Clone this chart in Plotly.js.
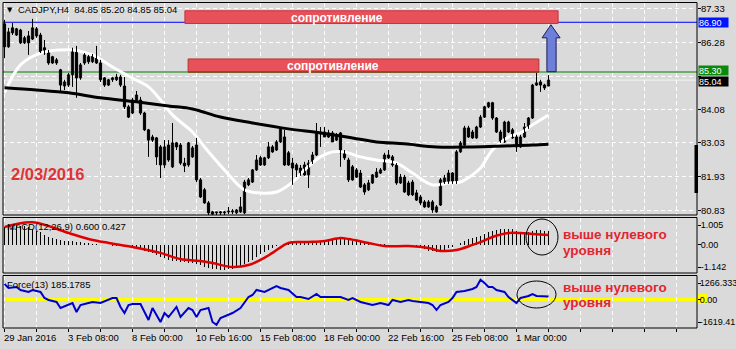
<!DOCTYPE html>
<html><head><meta charset="utf-8">
<script src="https://cdn.plot.ly/plotly-3.0.1.min.js"></script>
<style>html,body{margin:0;padding:0;background:#dadada;}#chart{width:736px;height:349px;}</style>
</head><body><div id="chart"></div>
<script>
// ---- data (CADJPY H4) ----
const open=[86.85,86.11,86.72,86.49,86.65,86.24,86.46,86.36,86.46,86.49,
86.08,85.95,85.79,85.59,85.37,84.85,84.88,85.21,85.95,85.11,
85.59,85.79,85.63,85.75,85.59,85.11,84.88,85.05,85.05,85.14,
84.85,84.18,83.98,84.34,84.40,83.98,83.44,83.21,83.18,82.89,
82.31,82.95,82.25,83.02,82.95,82.37,82.31,82.57,82.95,81.83,
81.51,81.09,80.80,80.77,80.80,80.77,80.80,80.83,80.77,80.80,
80.77,81.67,81.76,82.15,82.54,82.31,82.54,82.89,82.79,83.05,
83.21,82.70,82.37,82.31,82.21,82.31,81.99,82.37,82.63,83.34,
83.37,83.34,83.34,83.11,83.34,82.73,82.47,82.25,82.15,82.05,
81.67,81.51,81.73,81.92,82.05,82.15,82.63,82.57,82.31,81.73,
81.92,81.73,81.76,81.41,81.28,81.12,80.96,81.12,80.80,81.02,
81.73,81.73,82.05,81.73,82.73,82.95,83.50,83.37,83.18,83.53,
83.85,84.18,84.31,83.82,83.37,83.05,83.37,83.44,83.21,82.89,
83.21,83.50,83.82,84.88,84.98,84.88,84.85];
const high=[86.98,86.72,86.88,86.72,86.69,86.46,86.62,87.01,86.75,86.56,
86.33,86.01,85.82,85.75,85.40,85.05,85.27,86.08,86.14,85.59,
85.91,85.85,85.88,86.14,85.69,85.14,85.08,85.14,85.24,85.21,
85.14,84.24,84.47,84.69,84.50,84.02,83.47,83.28,83.21,82.95,
83.11,83.11,83.66,83.05,83.02,82.54,83.05,82.92,83.18,81.89,
81.57,81.15,80.83,80.80,80.83,80.83,80.96,80.89,80.89,81.28,
81.83,81.89,82.18,82.63,82.60,82.57,83.05,82.95,83.11,83.50,
83.44,82.76,82.54,82.37,82.31,82.41,82.47,82.73,83.66,83.53,
83.53,83.44,83.40,83.34,83.37,82.79,82.54,82.31,82.21,82.15,
81.73,81.83,82.02,82.21,82.21,82.70,82.79,82.63,82.37,82.02,
81.99,81.80,81.83,81.51,81.35,81.18,81.18,81.18,81.02,81.89,
81.99,82.15,82.08,82.79,83.08,83.57,83.57,83.44,83.57,83.92,
84.21,84.34,84.34,83.85,83.44,83.73,83.73,83.50,83.28,83.28,
83.66,83.85,84.92,85.27,85.05,84.92,85.20];
const low=[85.75,86.08,86.49,86.46,86.20,86.20,85.85,86.33,86.40,85.91,
85.85,85.53,85.56,85.53,84.66,84.72,84.82,84.82,84.47,85.05,
85.53,85.56,85.59,85.56,84.98,84.82,84.85,84.98,85.01,84.82,
84.11,83.82,83.95,84.31,83.92,83.40,82.57,83.05,82.31,81.89,
82.21,82.41,82.21,82.79,82.31,82.08,82.25,82.54,81.76,81.25,
81.06,80.70,80.70,80.70,80.70,80.70,80.73,80.73,80.73,80.77,
80.73,81.63,81.73,82.12,82.28,82.28,82.50,82.70,82.76,83.02,
82.28,82.28,81.67,81.92,81.96,81.96,81.57,82.34,82.60,82.89,
83.21,83.18,83.05,83.08,82.25,82.47,81.76,81.80,81.89,81.57,
81.35,81.47,81.70,81.89,82.02,82.12,82.50,82.25,81.67,81.70,
81.41,81.31,81.31,81.15,81.02,80.93,80.93,80.77,80.77,80.99,
81.70,81.70,81.70,81.70,82.70,82.92,83.18,83.15,83.15,83.50,
83.82,84.14,83.76,83.34,83.02,83.02,83.34,83.15,82.73,82.86,
83.18,83.47,83.79,84.85,84.66,84.72,84.85];
const close=[86.11,86.59,86.56,86.69,86.24,86.40,86.24,86.72,86.69,85.95,
85.91,85.59,85.59,85.69,84.88,84.98,85.21,86.01,85.11,85.53,
85.85,85.63,85.82,85.59,85.05,84.88,85.05,85.11,85.14,84.88,
84.18,83.85,84.40,84.56,83.98,83.44,83.11,83.11,82.57,82.31,
82.89,82.47,83.02,82.89,82.37,82.28,83.02,82.86,81.83,81.28,
81.09,80.77,80.73,80.80,80.77,80.80,80.83,80.80,80.86,80.96,
81.76,81.83,82.15,82.47,82.31,82.54,82.89,82.73,83.05,83.50,
82.31,82.31,82.21,82.15,81.99,81.99,82.37,82.63,83.37,83.37,
83.21,83.21,83.05,83.28,82.70,82.54,81.83,81.83,81.92,81.60,
81.44,81.73,81.99,82.08,82.15,82.63,82.54,82.31,81.73,81.92,
81.44,81.35,81.35,81.18,81.09,80.96,81.12,80.86,80.96,81.83,
81.89,82.05,81.73,82.73,83.02,83.50,83.21,83.18,83.53,83.85,
84.18,84.31,83.82,83.37,83.05,83.69,83.69,83.18,82.89,83.21,
83.53,83.82,84.88,84.95,84.88,84.79,85.04];

const whiteMaIdx=[0,4,9,14,17,22,27,32,36,39,42,47,50,55,60,64,68,72,75,79,82,85,89,93,98,102,107,111,114,117,119,122,126,129,132,136];
const whiteMaVal=[84.63,85.53,85.91,86.01,86.01,85.85,85.46,85.10,84.82,84.40,83.92,83.37,82.89,82.15,81.51,81.41,81.44,81.76,82.15,82.57,82.73,82.73,82.57,82.47,82.37,82.05,81.67,81.73,81.76,81.99,82.21,82.79,83.21,83.34,83.60,83.92];
const blackMaIdx=[0,8,16,24,33,41,47,54,62,71,79,87,93,100,108,117,125,132,136];
const blackMaVal=[84.79,84.72,84.63,84.47,84.34,84.21,84.11,83.85,83.66,83.47,83.34,83.18,83.05,82.99,82.89,82.89,82.92,82.95,82.98];

const macdHist=[0.80,0.85,0.88,0.88,0.86,0.83,0.78,0.72,0.63,
0.57,0.45,0.34,0.28,0.23,0.20,0.18,0.16,0.14,0.12,0.10,0.08,
0.06,0.04,0.02,0.00,-0.02,-0.04,-0.06,-0.08,-0.07,-0.10,
-0.13,-0.16,-0.19,-0.22,-0.28,-0.33,-0.40,-0.47,-0.55,-0.62,
-0.70,-0.73,-0.76,-0.78,-0.80,-0.82,-0.85,-0.88,-0.93,-1.00,
-1.08,-1.11,-1.13,-1.142,-1.14,-1.13,-1.12,-1.08,-1.00,-0.90,
-0.80,-0.68,-0.56,-0.45,-0.34,-0.24,-0.15,-0.08,-0.02,0.02,
0.10,0.11,0.12,0.13,0.15,0.16,0.16,0.17,0.17,0.21,
0.25,0.26,0.27,0.28,0.25,0.20,0.17,0.14,0.10,0.07,
0.05,0.04,0.03,0.02,0.01,0.00,-0.01,-0.01,-0.02,-0.04,
-0.07,-0.10,-0.13,-0.17,-0.22,-0.29,-0.31,-0.32,-0.33,-0.26,
-0.17,-0.10,-0.03,0.05,0.14,0.24,0.30,0.35,0.38,0.47,
0.58,0.62,0.66,0.70,0.72,0.72,0.68,0.62,0.58,0.55,
0.56,0.62,0.66,0.64,0.62,0.600];
const signalIdx=[0,7,16,21,26,32,39,44,49,52,57,61,64,67,71,76,80,84,86,91,95,101,106,109,113,117,119,122,126,129,132,136];
const signalVal=[0.79,1.005,0.52,0.25,0.07,-0.11,-0.38,-0.66,-0.75,-0.84,-1.02,-0.93,-0.70,-0.38,0.07,0.11,0.16,0.29,0.25,0.07,-0.07,-0.07,-0.16,-0.29,-0.25,-0.02,0.11,0.34,0.52,0.52,0.48,0.427];

const forceIdx=[0,1,3,4,6,7,9,10,11,13,14,16,17,18,19,21,22,24,26,27,28,29,30,31,32,34,36,37,39,40,41,43,44,46,47,48,49,51,52,53,54,56,57,59,60,61,62,63,65,66,68,69,71,73,74,76,78,79,81,82,84,86,87,89,91,92,94,96,97,99,101,102,104,106,107,108,109,111,112,113,115,117,118,119,120,121,122,123,125,126,128,129,130,131,132,133,136];
const forceVal=[992,736,800,608,480,608,480,96,-32,-160,
-544,-352,-224,-800,-352,-224,-160,-224,-32,96,
96,-480,-864,-352,-288,-288,-1312,-544,-1440,-864,
-1120,-480,-1120,-544,-672,-1120,-672,-544,-1440,-1619.41,
-1184,-992,-864,-544,-224,160,288,608,480,608,
864,736,608,160,160,32,352,160,160,160,
160,-32,96,-160,-288,-352,-224,-352,-32,-160,
-32,-96,-160,-224,-352,-672,-352,-160,96,480,
544,672,800,1266.333,1056,800,800,608,480,160,
-224,96,160,224,352,224,185.1785];

const xLabelIdx=[0,16,32,48,64,80,96,112,128];
const xLabels=['29 Jan 2016','3 Feb 08:00','8 Feb 00:00','10 Feb 16:00','15 Feb 08:00','18 Feb 00:00','22 Feb 16:00','25 Feb 08:00','1 Mar 00:00'];
const priceTickVals=[87.33,86.25,85.15,84.08,83.03,81.93,80.83];
const priceTickText=['87.33','86.28','','84.08','83.03','81.93','80.83'];
const macdTickVals=[0.88,0,-1.02];
const macdTickText=['1.005','0.00','-1.142'];
const forceTickVals=[1056,0,-1440];
const forceTickText=['1266.333','0.00','-1619.41'];
const levelBlue=86.90, levelGreen=85.30, bidPrice=85.04;
const titleText='CADJPY,H4  84.85 85.20 84.85 85.04';
const macdText='MACD(12,26,9) 0.600 0.427';
const forceText='Force(13) 185.1785';
const dateText='2/03/2016';
const resistText='сопротивление';
const noteLine1='выше нулевого', noteLine2='уровня';

// ---- geometry helpers (pixels -> paper) ----
const px=x=>(x-3)/694, py=y=>(328-y)/325;
const FONT='Liberation Sans, Arial, sans-serif';

const idx=close.map((_,i)=>i);
const bull=idx.filter(i=>close[i]>=open[i]);
const bear=idx.filter(i=>close[i]<open[i]);
const wx=[],wy=[];
idx.forEach(i=>{wx.push(i,i,null);wy.push(low[i],high[i],null);});

const traces=[
 {type:'scatter',x:whiteMaIdx,y:whiteMaVal,mode:'lines',line:{color:'#ffffff',width:3,shape:'spline',smoothing:1},xaxis:'x',yaxis:'y',hoverinfo:'skip'},
 {type:'scatter',x:blackMaIdx,y:blackMaVal,mode:'lines',line:{color:'#000000',width:3,shape:'spline',smoothing:1},xaxis:'x',yaxis:'y',hoverinfo:'skip'},
 {type:'scatter',x:wx,y:wy,mode:'lines',line:{color:'#000',width:1},xaxis:'x',yaxis:'y',hoverinfo:'skip'},
 {type:'bar',x:bull,base:bull.map(i=>open[i]),y:bull.map(i=>close[i]-open[i]),width:0.55,marker:{color:'#ffffff',line:{color:'#000',width:1}},xaxis:'x',yaxis:'y',hoverinfo:'skip'},
 {type:'bar',x:bear,base:bear.map(i=>close[i]),y:bear.map(i=>open[i]-close[i]),width:0.55,marker:{color:'#000000',line:{color:'#000',width:1}},xaxis:'x',yaxis:'y',hoverinfo:'skip'},
 {type:'bar',x:idx,y:macdHist,width:0.25,marker:{color:'#000',line:{width:0}},xaxis:'x',yaxis:'y2',hoverinfo:'skip'},
 {type:'scatter',x:signalIdx,y:signalVal,mode:'lines',line:{color:'#e00000',width:2.5,shape:'spline',smoothing:1},xaxis:'x',yaxis:'y2',hoverinfo:'skip'},
 {type:'scatter',x:forceIdx,y:forceVal,mode:'lines',line:{color:'#0000cc',width:2},xaxis:'x',yaxis:'y3',hoverinfo:'skip'}
];

const gridIdx=[];for(let k=0;k<=168;k+=8)gridIdx.push(k);

const shapes=[
 {type:'line',xref:'paper',x0:0,x1:1,yref:'y',y0:levelBlue,y1:levelBlue,line:{color:'#0000ff',width:1},layer:'between'},
 {type:'line',xref:'paper',x0:0,x1:1,yref:'y',y0:levelGreen,y1:levelGreen,line:{color:'#008000',width:1},layer:'between'},
 {type:'line',xref:'paper',x0:0,x1:1,yref:'y',y0:bidPrice,y1:bidPrice,line:{color:'#f4f4f4',width:1},layer:'between'},
 {type:'rect',xref:'x',yref:'y',x0:45.1,x1:138.4,y0:86.86,y1:87.27,fillcolor:'#e8505a',line:{color:'#c8323c',width:1},layer:'between'},
 {type:'rect',xref:'x',yref:'y',x0:45.9,x1:133.6,y0:85.30,y1:85.72,fillcolor:'#e8505a',line:{color:'#b03a30',width:1},layer:'between'},
 {type:'line',xref:'x',yref:'y',x0:45.9,x1:133.6,y0:85.30,y1:85.30,line:{color:'#7a4a20',width:1.5},layer:'between'},
 {type:'line',xref:'paper',x0:0,x1:1,yref:'y3',y0:0,y1:0,line:{color:'#ffff00',width:3},layer:'between'},
 {type:'path',xref:'x',yref:'y',path:'M 135.6,85.31 L 135.6,86.40 L 134.4,86.40 L 136.6,86.82 L 138.9,86.40 L 137.9,86.40 L 137.9,85.31 Z',fillcolor:'#6d7fd9',line:{color:'#1c1c5c',width:1},layer:'above'},
 {type:'circle',xref:'paper',yref:'paper',x0:px(526),x1:px(558),y0:py(255),y1:py(219),line:{color:'#000',width:1},layer:'above'},
 {type:'circle',xref:'paper',yref:'paper',x0:px(517),x1:px(556),y0:py(308),y1:py(281),line:{color:'#000',width:1},layer:'above'},
 {type:'rect',xref:'paper',yref:'paper',x0:px(697),x1:px(707),y0:py(304),y1:py(294),fillcolor:'#ffff00',line:{width:0},layer:'below'},
 {type:'rect',xref:'paper',yref:'paper',x0:px(694.5),x1:px(698),y0:py(193),y1:py(145),fillcolor:'#000',line:{width:0},layer:'above'},
 {type:'rect',xref:'paper',yref:'paper',x0:0,x1:1,y0:py(215),y1:py(2.5),line:{color:'#000',width:1},layer:'above'},
 {type:'rect',xref:'paper',yref:'paper',x0:0,x1:1,y0:py(273),y1:py(217.5),line:{color:'#000',width:1},layer:'above'},
 {type:'rect',xref:'paper',yref:'paper',x0:0,x1:1,y0:0,y1:py(275.5),line:{color:'#000',width:1},layer:'above'}
];

const ann=[];
function A(o){ann.push(Object.assign({showarrow:false,xref:'paper',yref:'paper',xanchor:'left',yanchor:'middle',font:{family:FONT,size:9.5,color:'#000'}},o));}
A({x:px(5),y:py(10),text:'▼',font:{family:'DejaVu Sans',size:7,color:'#000'}});
A({x:px(16),y:py(10),text:titleText});
A({x:px(9),y:py(174),text:dateText,font:{family:FONT,size:16.5,color:'#e03236',weight:'bold'}});
A({x:px(337),y:py(18),xanchor:'center',text:resistText,font:{family:FONT,size:12,color:'#ffffff',weight:'bold'}});
A({x:px(333),y:py(65.5),xanchor:'center',text:resistText,font:{family:FONT,size:12,color:'#ffffff',weight:'bold'}});
[[234,250],[287,302.5]].forEach(p=>{
 A({x:px(561),y:py(p[0]),text:noteLine1,font:{family:FONT,size:13.5,color:'#e2262e',weight:'bold'}});
 A({x:px(561),y:py(p[1]),text:noteLine2,font:{family:FONT,size:13.5,color:'#e2262e',weight:'bold'}});
});
A({x:px(5),y:py(226),text:macdText});
A({x:px(5),y:py(284),text:forceText});
xLabelIdx.forEach((v,k)=>A({xref:'x',x:v,xshift:-3,y:py(337),text:xLabels[k]}));
function box(val,txt,col,ys){ann.push({showarrow:false,xref:'paper',x:1,xanchor:'left',xshift:1,yref:'y',y:val,yshift:ys,yanchor:'middle',text:txt,bgcolor:col,width:29,height:9,borderpad:0,align:'left',font:{family:FONT,size:9,color:'#ffffff'}});}
box(levelBlue,'86.90','#0014ff',0);
box(levelGreen,'85.30','#0a8a0a',1.5);
box(bidPrice,'85.04','#000000',-1);

const axFont={family:FONT,size:9.5,color:'#000'};
const subFont={family:FONT,size:9,color:'#000'};
const yCommon={anchor:'x',side:'right',ticks:'outside',ticklen:3,tickcolor:'#000',tickfont:axFont,zeroline:false,showline:false,ticklabelstandoff:-2};
const layout={
 width:736,height:349,margin:{l:3,r:39,t:3,b:21,pad:0},
 paper_bgcolor:'#dadada',plot_bgcolor:'#dadada',showlegend:false,barmode:'overlay',bargap:0,
 font:axFont,hovermode:false,
 xaxis:{range:[-0.375,173.125],anchor:'y3',tickvals:gridIdx,showticklabels:false,ticks:'outside',ticklen:3,tickcolor:'#000',
  showgrid:true,gridcolor:'#ffffff',griddash:'4px,3px',gridwidth:1,zeroline:false,showline:false,fixedrange:true},
 yaxis:Object.assign({},yCommon,{domain:[py(215),py(3)],range:[80.70,87.52],tickvals:priceTickVals,ticktext:priceTickText,
  showgrid:true,gridcolor:'#ffffff',griddash:'4px,3px'}),
 yaxis2:Object.assign({},yCommon,{domain:[py(273),py(217.5)],range:[-1.29,1.222],tickvals:macdTickVals,ticktext:macdTickText,showgrid:false,tickfont:subFont}),
 yaxis3:Object.assign({},yCommon,{domain:[0,py(275.5)],range:[-1824,1536],tickvals:forceTickVals,ticktext:forceTickText,showgrid:false,tickfont:subFont,ticklabelstandoff:-3}),
 shapes:shapes,annotations:ann
};
Plotly.newPlot('chart',traces,layout,{staticPlot:true,displayModeBar:false});
</script></body></html>
